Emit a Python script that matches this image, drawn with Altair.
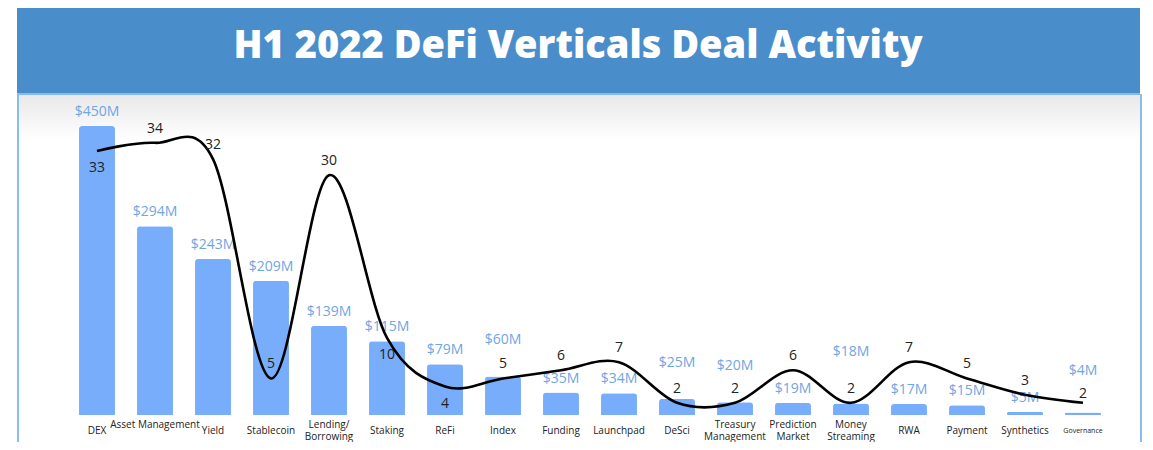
import altair as alt
import pandas as pd

categories = ["DEX", "Asset Management", "Yield", "Stablecoin", "Lending/Borrowing", "Staking",
              "ReFi", "Index", "Funding", "Launchpad", "DeSci", "Treasury Management",
              "Prediction Market", "Money Streaming", "RWA", "Payment", "Synthetics", "Governance"]
funding_musd = [450, 294, 243, 209, 139, 115, 79, 60, 35, 34, 25, 20, 19, 18, 17, 15, 5, 4]
deal_counts = [33, 34, 32, 5, 30, 10, 4, 5, 6, 7, 2, 2, 6, 2, 7, 5, 3, 2]
funding_labels = ["$450M", "$294M", "$243M", "$209M", "$139M", "$115M", "$79M", "$60M", "$35M",
                  "$34M", "$25M", "$20M", "$19M", "$18M", "$17M", "$15M", "$5M", "$4M"]
axis_labels = ["DEX", "Asset Management", "Yield", "Stablecoin", "Lending/|Borrowing", "Staking",
               "ReFi", "Index", "Funding", "Launchpad", "DeSci", "Treasury|Management",
               "Prediction|Market", "Money|Streaming", "RWA", "Payment", "Synthetics", "Governance"]

title_text = "H1 2022 DeFi Verticals Deal Activity"

df = pd.DataFrame({"cat": categories, "funding": funding_musd, "deals": deal_counts,
                   "flabel": funding_labels, "alabel": axis_labels,
                   "idx": list(range(len(categories)))})

W, H = 1044, 312
BAR_DOMAIN = [0, 486]
DEAL_DOMAIN = [0.5, 38.9]

label_lift = ["Index", "DeSci", "Treasury Management"]
label_lift_gov = ["Governance"]
label_lift2 = ["Money Streaming"]
deal_below = ["DEX", "Staking", "ReFi"]
deal_low = ["Governance"]
upper_axis_labels = ["Asset Management", "Lending/Borrowing", "Treasury Management",
                     "Prediction Market", "Money Streaming"]
small_axis_labels = ["Governance"]

xenc = alt.X("cat:N", sort=categories,
             scale=alt.Scale(paddingInner=0.38, paddingOuter=0.19),
             axis=None)

ybar = alt.Y("funding:Q", scale=alt.Scale(domain=BAR_DOMAIN), axis=None)
ydeal = alt.Y("deals:Q", scale=alt.Scale(domain=DEAL_DOMAIN, zero=False), axis=None)

one = pd.DataFrame({"a": [0]})

shade = alt.Chart(one).mark_rect(
    color=alt.LinearGradient(gradient="linear", x1=0, x2=0, y1=0, y2=1,
                             stops=[alt.GradientStop(color="#e8e8e8", offset=0),
                                    alt.GradientStop(color="#ffffff", offset=1)])
).encode(x=alt.value(-51), x2=alt.value(1072), y=alt.value(-9), y2=alt.value(37))

banner = alt.Chart(one).mark_rect(color="#4a8dcb").encode(
    x=alt.value(-51), x2=alt.value(1072), y=alt.value(-95), y2=alt.value(-9))
banner_line = alt.Chart(one).mark_rule(color="#86b9ef", strokeWidth=2).encode(
    x=alt.value(-51), x2=alt.value(1072), y=alt.value(-9))
left_border = alt.Chart(one).mark_rule(color="#8bbcf0", strokeWidth=2).encode(
    x=alt.value(-50), y=alt.value(-9), y2=alt.value(345))
right_border = alt.Chart(one).mark_rule(color="#8bbcf0", strokeWidth=2).encode(
    x=alt.value(1073), y=alt.value(-9), y2=alt.value(345))
title = alt.Chart(one).mark_text(text=title_text, font="Open Sans", fontWeight=800, fontSize=38,
                                 color="white", align="center", baseline="middle").encode(
    x=alt.value(510), y=alt.value(-56))

base = alt.Chart(df)

bars = base.mark_bar(color="#78adfc", cornerRadiusTopLeft=3, cornerRadiusTopRight=3).encode(
    x=xenc, y=ybar)

flab_common = dict(font="Open Sans", fontSize=14, color="#6fa6e4", baseline="middle", align="center")
normal_f = [c for c in categories if c not in label_lift + label_lift2 + label_lift_gov]
flab1 = base.transform_filter(alt.FieldOneOfPredicate(field="cat", oneOf=normal_f)).mark_text(
    dy=-14, **flab_common).encode(x=xenc, y=ybar, text="flabel:N")
flab2 = base.transform_filter(alt.FieldOneOfPredicate(field="cat", oneOf=label_lift)).mark_text(
    dy=-36, **flab_common).encode(x=xenc, y=ybar, text="flabel:N")
flab3 = base.transform_filter(alt.FieldOneOfPredicate(field="cat", oneOf=label_lift2)).mark_text(
    dy=-51, **flab_common).encode(x=xenc, y=ybar, text="flabel:N")
flab4 = base.transform_filter(alt.FieldOneOfPredicate(field="cat", oneOf=label_lift_gov)).mark_text(
    dy=-41, **flab_common).encode(x=xenc, y=ybar, text="flabel:N")

line = base.mark_line(color="black", strokeWidth=2.6, interpolate="cardinal").encode(
    x=xenc, y=ydeal, order="idx:Q")

dlab_common = dict(font="Open Sans", fontSize=14, color="#222222", baseline="middle", align="center")
normal_d = [c for c in categories if c not in deal_below + deal_low]
dlab1 = base.transform_filter(alt.FieldOneOfPredicate(field="cat", oneOf=normal_d)).mark_text(
    dy=-14, **dlab_common).encode(x=xenc, y=ydeal, text="deals:Q")
dlab2 = base.transform_filter(alt.FieldOneOfPredicate(field="cat", oneOf=deal_below)).mark_text(
    dy=17, **dlab_common).encode(x=xenc, y=ydeal, text="deals:Q")
dlab3 = base.transform_filter(alt.FieldOneOfPredicate(field="cat", oneOf=deal_low)).mark_text(
    dy=-9, **dlab_common).encode(x=xenc, y=ydeal, text="deals:Q")

alab_common = dict(font="Open Sans", color="#222222", baseline="middle", align="center",
                   lineBreak="|", lineHeight=12)
single = [c for c in categories if c not in upper_axis_labels + small_axis_labels]
alab1 = base.transform_filter(alt.FieldOneOfPredicate(field="cat", oneOf=single)).mark_text(
    fontSize=10, **alab_common).encode(x=xenc, y=alt.value(H + 16), text="alabel:N")
alab2 = base.transform_filter(alt.FieldOneOfPredicate(field="cat", oneOf=upper_axis_labels)).mark_text(
    fontSize=10, **alab_common).encode(x=xenc, y=alt.value(H + 10), text="alabel:N")
alab3 = base.transform_filter(alt.FieldOneOfPredicate(field="cat", oneOf=small_axis_labels)).mark_text(
    fontSize=7, **alab_common).encode(x=xenc, y=alt.value(H + 16), text="alabel:N")

chart = alt.layer(shade, banner, banner_line, left_border, right_border, title,
                  bars, flab1, flab2, flab3, flab4, line, dlab1, dlab2, dlab3,
                  alab1, alab2, alab3).resolve_scale(
    y="independent").properties(
    width=W, height=H,
    autosize=alt.AutoSizeParams(type="none"),
    padding={"left": 60, "top": 95, "right": 33, "bottom": 27},
    background="white"
).configure_view(stroke=None)

chart.save("out.html", embed_options={"renderer": "svg", "actions": False})
